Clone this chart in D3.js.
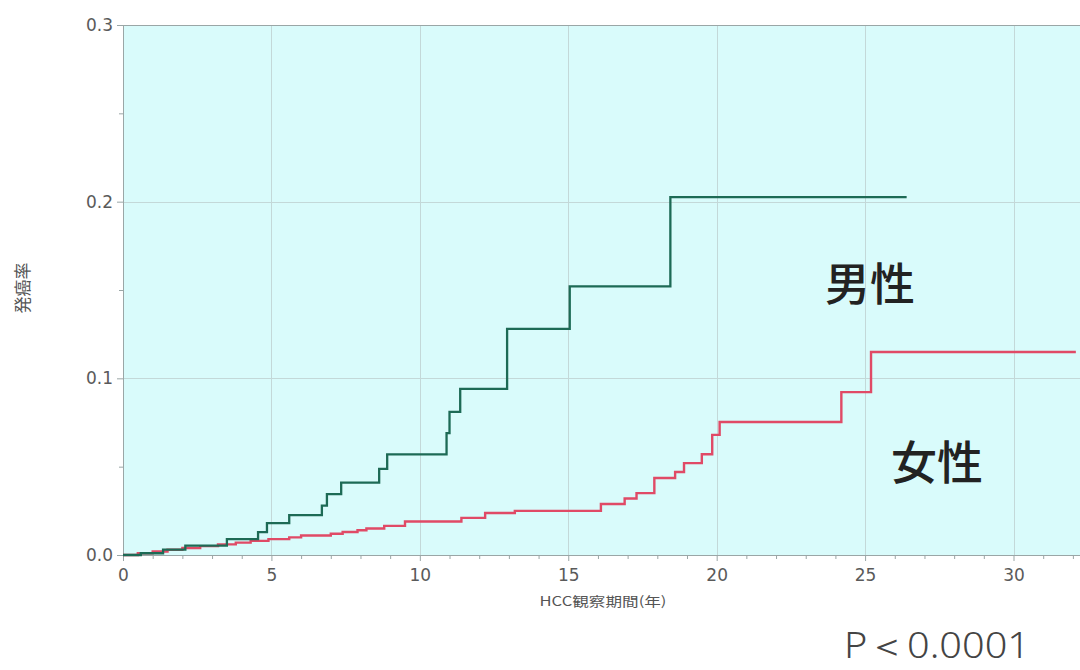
<!DOCTYPE html>
<html>
<head>
<meta charset="utf-8">
<script src="https://cdn.jsdelivr.net/npm/d3@7"></script>
<style>
  html, body { margin: 0; padding: 0; background: #ffffff; }
  svg { display: block; }
</style>
</head>
<body>
<svg id="chart" width="1080" height="670"></svg>
<script>
// Cumulative HCC incidence by sex (step curves): [years, cumulative rate]
const maleSteps = [
  [0, 0], [0.6, 0.001], [1.35, 0.003], [2.1, 0.0053], [3.5, 0.009],
  [4.55, 0.013], [4.85, 0.018], [5.6, 0.0226], [6.7, 0.028], [6.87, 0.0345],
  [7.35, 0.041], [8.63, 0.0487], [8.9, 0.057], [10.9, 0.069], [11.0, 0.081],
  [11.36, 0.094], [12.94, 0.128], [15.05, 0.152], [18.44, 0.2026], [26.4, 0.2026]
];
const femaleSteps = [
  [0, 0], [0.5, 0.001], [1.0, 0.002], [1.5, 0.003], [2.0, 0.004], [2.6, 0.005],
  [3.2, 0.006], [3.8, 0.007], [4.3, 0.008], [4.9, 0.009], [5.6, 0.010],
  [6.0, 0.011], [7.0, 0.012], [7.4, 0.013], [7.9, 0.014], [8.2, 0.015],
  [8.8, 0.0165], [9.5, 0.019], [11.4, 0.021], [12.2, 0.0238], [13.2, 0.025],
  [16.1, 0.0289], [16.9, 0.032], [17.3, 0.035], [17.9, 0.0436], [18.6, 0.047],
  [18.9, 0.052], [19.5, 0.057], [19.85, 0.068], [20.1, 0.0753], [24.2, 0.0922],
  [25.2, 0.1149], [32.1, 0.1149]
];
const xTicks = [0, 5, 10, 15, 20, 25, 30];
const yTicks = [0.0, 0.1, 0.2, 0.3];
const groupLabels = ["男性", "女性"];
const xTitle = "HCC観察期間(年)";
const yTitle = "発癌率";
const pLabel = "P＜0.0001";

const svg = d3.select("#chart");
const plotLeft = 123, plotTop = 25, plotRight = 1080, plotBottom = 555;

const x = d3.scaleLinear().domain([0, 32.24]).range([plotLeft, plotRight]);
const y = d3.scaleLinear().domain([0, 0.3]).range([plotBottom, plotTop]);

// plot background
svg.append("rect")
  .attr("x", plotLeft).attr("y", plotTop)
  .attr("width", plotRight - plotLeft).attr("height", plotBottom - plotTop)
  .attr("fill", "#d9fbfb");

// grid
const grid = svg.append("g").attr("stroke", "#c3d8d8").attr("stroke-width", 1);
xTicks.filter(d => d > 0).forEach(d => {
  grid.append("line")
    .attr("x1", Math.round(x(d)) + 0.5).attr("x2", Math.round(x(d)) + 0.5)
    .attr("y1", plotTop).attr("y2", plotBottom);
});
yTicks.filter(d => d > 0 && d < 0.3).forEach(d => {
  grid.append("line")
    .attr("x1", plotLeft).attr("x2", plotRight)
    .attr("y1", Math.round(y(d)) + 0.5).attr("y2", Math.round(y(d)) + 0.5);
});

// axes
const axisColor = "#9aa6a6";
const xAxis = svg.append("g")
  .attr("transform", `translate(0,${plotBottom})`)
  .call(d3.axisBottom(x).tickValues(xTicks).tickFormat(d3.format("d")).tickSize(6).tickPadding(8));
const xMinor = svg.append("g")
  .attr("transform", `translate(0,${plotBottom})`)
  .call(d3.axisBottom(x).tickValues(d3.range(1, 33).filter(d => d % 5 !== 0)).tickFormat("").tickSize(4));
const yAxis = svg.append("g")
  .attr("transform", `translate(${plotLeft},0)`)
  .call(d3.axisLeft(y).tickValues(yTicks).tickFormat(d3.format(".1f")).tickSize(6).tickPadding(4));
const yMinor = svg.append("g")
  .attr("transform", `translate(${plotLeft},0)`)
  .call(d3.axisLeft(y).tickValues([0.05, 0.15, 0.25]).tickFormat("").tickSize(4));

[xAxis, xMinor, yAxis, yMinor].forEach(g => {
  g.select(".domain").attr("stroke", axisColor);
  g.selectAll(".tick line").attr("stroke", axisColor);
  g.selectAll(".tick text")
    .attr("fill", "#5a5a5a")
    .style("font-family", "'DejaVu Sans', sans-serif")
    .style("font-size", "17px");
});
xMinor.select(".domain").remove();
yMinor.select(".domain").remove();

// top border of plot
svg.append("line")
  .attr("x1", plotLeft).attr("x2", plotRight)
  .attr("y1", plotTop + 0.5).attr("y2", plotTop + 0.5)
  .attr("stroke", axisColor);

// step curves
const line = d3.line()
  .x(d => x(d[0])).y(d => y(d[1]))
  .curve(d3.curveStepAfter);

svg.append("path")
  .datum(femaleSteps)
  .attr("d", line)
  .attr("fill", "none")
  .attr("stroke", "#e04a66")
  .attr("stroke-width", 2.4);

svg.append("path")
  .datum(maleSteps)
  .attr("d", line)
  .attr("fill", "none")
  .attr("stroke", "#1d6a55")
  .attr("stroke-width", 2.3);

// group labels
const cjk = "'Noto Sans CJK JP', 'Noto Sans CJK SC', sans-serif";
svg.append("text")
  .attr("x", 870).attr("y", 301)
  .attr("text-anchor", "middle")
  .attr("fill", "#222")
  .style("font-family", cjk).style("font-size", "45px").style("font-weight", "500")
  .text(groupLabels[0]);
svg.append("text")
  .attr("x", 937).attr("y", 479)
  .attr("text-anchor", "middle")
  .attr("fill", "#222")
  .style("font-family", cjk).style("font-size", "46px").style("font-weight", "500")
  .text(groupLabels[1]);

// axis titles
svg.append("text")
  .attr("x", 603).attr("y", 606)
  .attr("text-anchor", "middle")
  .attr("fill", "#555")
  .attr("textLength", 127).attr("lengthAdjust", "spacingAndGlyphs")
  .style("font-family", cjk).style("font-size", "13px")
  .text(xTitle);
svg.append("text")
  .attr("transform", "translate(29,288) rotate(-90)")
  .attr("text-anchor", "middle")
  .attr("fill", "#555")
  .style("font-family", cjk).style("font-size", "17px")
  .text(yTitle);

// log-rank p-value
svg.append("text")
  .attr("x", 937).attr("y", 658)
  .attr("text-anchor", "middle")
  .attr("fill", "#444")
  .attr("textLength", 186).attr("lengthAdjust", "spacingAndGlyphs")
  .style("font-family", "'Noto Sans', 'Open Sans', sans-serif")
  .style("font-size", "36px").style("font-weight", "300")
  .text(pLabel);
</script>
</body>
</html>
